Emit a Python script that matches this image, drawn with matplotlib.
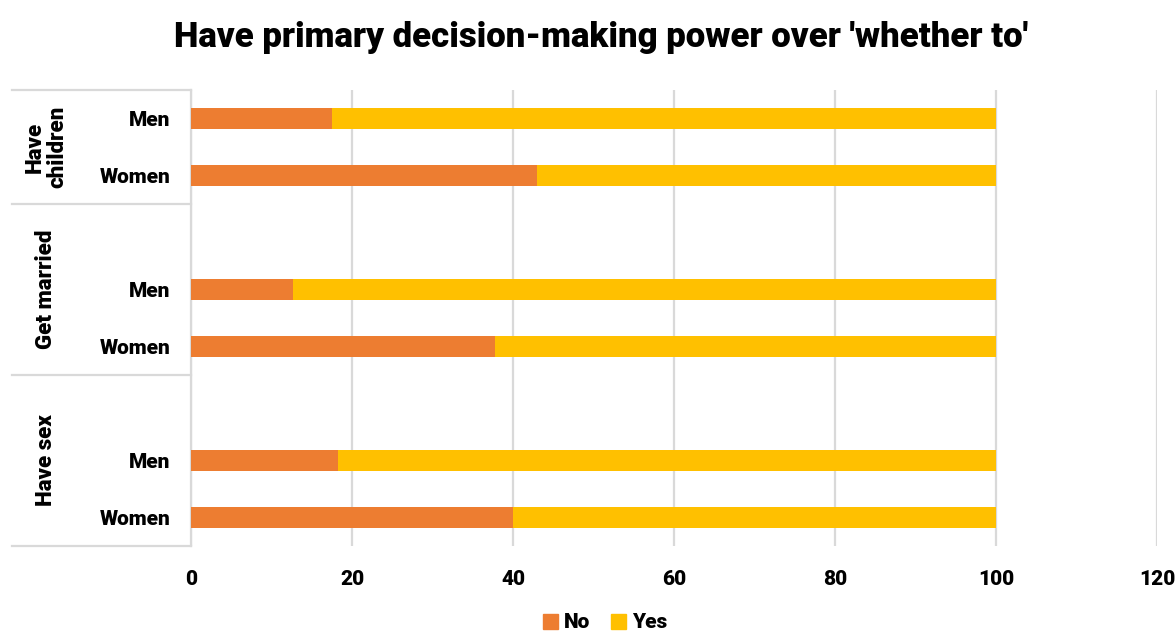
import matplotlib
matplotlib.use("Agg")
import matplotlib.pyplot as plt
from matplotlib.lines import Line2D
from matplotlib.patches import Patch

groups = ["Have\nchildren", "Get married", "Have sex"]
genders = ["Men", "Women"]
no_values = [17.5, 43.0, 12.7, 37.8, 18.3, 40.0]
yes_values = [100 - v for v in no_values]
x_ticks = [0, 20, 40, 60, 80, 100, 120]

plt.rcParams["font.family"] = ["Roboto", "DejaVu Sans"]
plt.rcParams["font.weight"] = "bold"

c_no = "#ED7D31"
c_yes = "#FFC000"
grid_c = "#D9D9D9"
WT = 900

W, H = 1176, 635
fig = plt.figure(figsize=(W / 100, H / 100), dpi=100)
L, R, T, B = 191, 1157, 90, 546
ax = fig.add_axes([L / W, 1 - B / H, (R - L) / W, (B - T) / H])

# slot layout: two rows per group, with an empty slot before the 2nd and 3rd groups
slots = [0, 1, 3, 4, 6, 7]
ypos = [s + 0.5 for s in slots]
bh = 0.36
ax.barh(ypos, no_values, height=bh, color=c_no, label="No", zorder=3)
ax.barh(ypos, yes_values, left=no_values, height=bh, color=c_yes, label="Yes", zorder=3)

ax.set_ylim(8, 0)
ax.set_xlim(0, 120)
ax.set_xticks(x_ticks)
ax.set_xticklabels([str(t) for t in x_ticks], fontsize=15, fontweight=WT)
ax.tick_params(axis="x", length=0, pad=17)
ax.set_yticks(ypos)
ax.set_yticklabels(genders * 3, fontsize=15, fontweight=WT)
ax.tick_params(axis="y", length=0, pad=15)
ax.grid(axis="x", color=grid_c, linewidth=1.6, zorder=0)
for s in ["top", "right", "bottom"]:
    ax.spines[s].set_visible(False)
ax.spines["left"].set_color(grid_c)
ax.spines["left"].set_linewidth(1.6)

# group separators and group labels on the category axis
sep_slots = [0, 2, 5, 8]
x0 = 12 / W
for s in sep_slots:
    yf = 1 - (T + (B - T) * s / 8) / H
    fig.add_artist(Line2D([x0, L / W], [yf, yf], color=grid_c, lw=1.6, transform=fig.transFigure))
for i, g in enumerate(groups):
    a, b = sep_slots[i], sep_slots[i + 1]
    yc = 1 - (T + (B - T) * (a + b) / 2 / 8) / H
    fig.text(46 / W, yc, g, rotation=90, ha="center", va="center",
             fontsize=16, fontweight=WT, linespacing=1.05)

fig.suptitle("Have primary decision-making power over 'whether to'",
             x=601 / W, y=1 - 38 / H, va="center", fontsize=25, fontweight=WT)

handles = [Patch(color=c_no), Patch(color=c_yes)]
fig.legend(handles, ["No", "Yes"], loc="center", bbox_to_anchor=(605 / W, 1 - 623 / H),
           ncol=2, frameon=False, handlelength=0.7, handleheight=0.7,
           handletextpad=0.3, columnspacing=1.0, prop={"weight": WT, "size": 15})

fig.savefig("out.png", dpi=100)
